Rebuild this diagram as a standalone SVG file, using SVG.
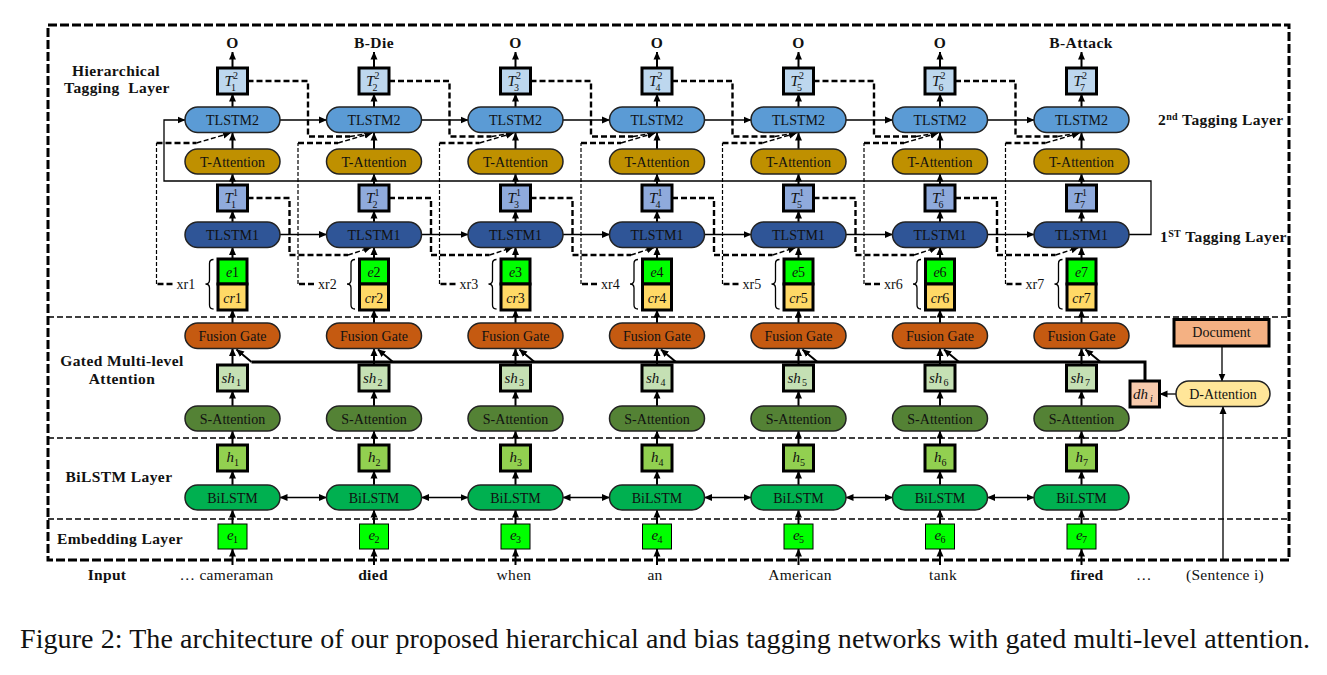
<svg xmlns="http://www.w3.org/2000/svg" xmlns:xlink="http://www.w3.org/1999/xlink" width="1327" height="675" viewBox="0 0 1327 675">
<style>
text{font-family:"Liberation Serif","Times New Roman",serif;fill:#111}
.nt{font-size:14px;text-anchor:middle}
.lab{font-size:15.5px;font-weight:bold;letter-spacing:0.4px}
.labm{font-size:15.5px;font-weight:bold;letter-spacing:0.4px;text-anchor:middle}
.m{font-size:15px;font-style:italic}
.ms{font-size:10px}
.msi{font-size:10px;font-style:italic}
.xr{font-size:14px}
.word{font-size:15.5px;text-anchor:middle;letter-spacing:0.3px}
.wordb{font-size:15.5px;text-anchor:middle;font-weight:bold;letter-spacing:0.3px}
.pill{stroke:#222;stroke-width:1.5}
.tl2{fill:#5B9BD5}.tat{fill:#BF9000}.tl1{fill:#2F5597}.fus{fill:#C55A11}.sat{fill:#548235}.bil{fill:#00B050}.dat{fill:#FFE699}
.bx{stroke:#000;stroke-width:3}
.t2{fill:#BDD7EE}.t1{fill:#8FAADC}.eg{fill:#00FF00}.cr{fill:#FFD966}.sh{fill:#C5E0B4}.hh{fill:#92D050}.dh{fill:#F8CBAD}.doc{fill:#F4B183}
.emb{fill:#00FF00;stroke:#000;stroke-width:1}
.ar{stroke:#000;stroke-width:2;fill:none;marker-end:url(#ah)}
.arh{stroke:#000;stroke-width:1.3;fill:none;marker-end:url(#ah)}
.arb{stroke:#000;stroke-width:1.3;fill:none;marker-end:url(#ah);marker-start:url(#ahs)}
.dk{stroke:#000;stroke-width:2.4;fill:none;stroke-dasharray:6 3}
.dt{stroke:#000;stroke-width:1.2;fill:none;stroke-dasharray:4 2}
.dd{stroke:#000;stroke-width:1.5;fill:none;stroke-dasharray:5 2.5;marker-end:url(#ah)}
.br{stroke:#000;stroke-width:1.3;fill:none}
.sep{stroke:#000;stroke-width:1.5;stroke-dasharray:6 3;fill:none}
</style>
<defs>
<marker id="ah" markerUnits="userSpaceOnUse" markerWidth="8" markerHeight="8" refX="7.5" refY="4" orient="auto"><path d="M0,0.5 L8,4 L0,7.5 z" fill="#000"/></marker>
<marker id="ahs" markerUnits="userSpaceOnUse" markerWidth="8" markerHeight="8" refX="7.5" refY="4" orient="auto-start-reverse"><path d="M0,0.5 L8,4 L0,7.5 z" fill="#000"/></marker>
<g id="vstack">
<line class="ar" x1="0" y1="68" x2="0" y2="52"/>
<line class="ar" x1="0" y1="107" x2="0" y2="94"/>
<line class="ar" x1="0" y1="149" x2="0" y2="133"/>
<line class="ar" x1="0" y1="185" x2="0" y2="174"/>
<line class="ar" x1="0" y1="222" x2="0" y2="211"/>
<line class="ar" x1="0" y1="259" x2="0" y2="247.5"/>
<line class="ar" x1="0" y1="323" x2="0" y2="310"/>
<line class="ar" x1="0" y1="365" x2="0" y2="348.5"/>
<line class="ar" x1="0" y1="406" x2="0" y2="391"/>
<line class="ar" x1="0" y1="445" x2="0" y2="431"/>
<line class="ar" x1="0" y1="485" x2="0" y2="471"/>
<line class="ar" x1="0" y1="524" x2="0" y2="510"/>
<line class="ar" x1="0" y1="565" x2="0" y2="549"/>
<line class="ar" x1="19" y1="362" x2="4" y2="349.5"/>
<path class="br" d="M-19,259.5 Q-23,259.5 -23,263.5 V280 Q-23,284 -27,284 Q-23,284 -23,288 V305 Q-23,309 -19,309"/>
</g>
</defs>
<rect width="1327" height="675" fill="#fff"/>

<!-- frame and layer separators -->
<g id="frame">
<rect x="48" y="25" width="1241" height="535" fill="none" stroke="#000" stroke-width="3" stroke-dasharray="9 3"/>
<line class="sep" x1="48" y1="317" x2="1289" y2="317"/>
<line class="sep" x1="48" y1="438" x2="1289" y2="438"/>
<line class="sep" x1="48" y1="519" x2="1289" y2="519"/>
</g>

<g id="layer-labels">
<text class="labm" x="116" y="76">Hierarchical</text>
<text class="labm" x="117" y="93" xml:space="preserve">Tagging  Layer</text>
<text class="labm" x="122" y="366">Gated Multi-level</text>
<text class="labm" x="122" y="384">Attention</text>
<text class="labm" x="119" y="482">BiLSTM Layer</text>
<text class="labm" x="120" y="544">Embedding Layer</text>
<text class="lab" x="1158" y="125">2<tspan font-size="10" dy="-5">nd</tspan><tspan dy="5"> Tagging Layer</tspan></text>
<text class="lab" x="1160" y="242">1<tspan font-size="10" dy="-5">ST</tspan><tspan dy="5"> Tagging Layer</tspan></text>
</g>

<!-- connectors -->
<g id="connectors">
<use xlink:href="#vstack" href="#vstack" x="232.5"/>
<use xlink:href="#vstack" href="#vstack" x="374"/>
<use xlink:href="#vstack" href="#vstack" x="515.5"/>
<use xlink:href="#vstack" href="#vstack" x="657"/>
<use xlink:href="#vstack" href="#vstack" x="798.5"/>
<use xlink:href="#vstack" href="#vstack" x="940"/>
<use xlink:href="#vstack" href="#vstack" x="1081.5"/>
<!-- TLSTM2 chain -->
<line class="arh" x1="280" y1="120" x2="326.5" y2="120"/>
<line class="arh" x1="421.5" y1="120" x2="468" y2="120"/>
<line class="arh" x1="563" y1="120" x2="609.5" y2="120"/>
<line class="arh" x1="704.5" y1="120" x2="751" y2="120"/>
<line class="arh" x1="846" y1="120" x2="892.5" y2="120"/>
<line class="arh" x1="987.5" y1="120" x2="1034" y2="120"/>
<!-- TLSTM1 chain -->
<line class="arh" x1="280" y1="234.5" x2="326.5" y2="234.5"/>
<line class="arh" x1="421.5" y1="234.5" x2="468" y2="234.5"/>
<line class="arh" x1="563" y1="234.5" x2="609.5" y2="234.5"/>
<line class="arh" x1="704.5" y1="234.5" x2="751" y2="234.5"/>
<line class="arh" x1="846" y1="234.5" x2="892.5" y2="234.5"/>
<line class="arh" x1="987.5" y1="234.5" x2="1034" y2="234.5"/>
<!-- BiLSTM chain -->
<line class="arb" x1="280" y1="497.5" x2="326.5" y2="497.5"/>
<line class="arb" x1="421.5" y1="497.5" x2="468" y2="497.5"/>
<line class="arb" x1="563" y1="497.5" x2="609.5" y2="497.5"/>
<line class="arb" x1="704.5" y1="497.5" x2="751" y2="497.5"/>
<line class="arb" x1="846" y1="497.5" x2="892.5" y2="497.5"/>
<line class="arb" x1="987.5" y1="497.5" x2="1034" y2="497.5"/>
<!-- loop from TLSTM1 (last) to TLSTM2 (first) -->
<path class="arh" stroke-width="1.8" d="M1129,234.5 H1151 V181 H164 V120 H185"/>
<!-- T2 dashed to next TLSTM2 -->
<path class="dk" d="M247.5,81 H308 V136.5 H350"/><path class="dd" d="M350,136.5 L372,133"/>
<path class="dk" d="M389,81 H449.5 V136.5 H491.5"/><path class="dd" d="M491.5,136.5 L513.5,133"/>
<path class="dk" d="M530.5,81 H591 V136.5 H633"/><path class="dd" d="M633,136.5 L655,133"/>
<path class="dk" d="M672,81 H732.5 V136.5 H774.5"/><path class="dd" d="M774.5,136.5 L796.5,133"/>
<path class="dk" d="M813.5,81 H874 V136.5 H916"/><path class="dd" d="M916,136.5 L938,133"/>
<path class="dk" d="M955,81 H1015.5 V136.5 H1057.5"/><path class="dd" d="M1057.5,136.5 L1079.5,133"/>
<!-- T1 dashed to next TLSTM1 -->
<path class="dk" d="M247.5,198 H289.5 V255 H348"/><path class="dd" d="M348,255 L371,247.5"/>
<path class="dk" d="M389,198 H431 V255 H489.5"/><path class="dd" d="M489.5,255 L512.5,247.5"/>
<path class="dk" d="M530.5,198 H572.5 V255 H631"/><path class="dd" d="M631,255 L654,247.5"/>
<path class="dk" d="M672,198 H714 V255 H772.5"/><path class="dd" d="M772.5,255 L795.5,247.5"/>
<path class="dk" d="M813.5,198 H855.5 V255 H914"/><path class="dd" d="M914,255 L937,247.5"/>
<path class="dk" d="M955,198 H997 V255 H1055.5"/><path class="dd" d="M1055.5,255 L1078.5,247.5"/>
<!-- xr dashed to TLSTM2 -->
<path class="dk" d="M172.5,284 H156.5"/><path class="dt" d="M156.5,284 V143"/><path class="dk" d="M156.5,143 H196.5"/><path class="dd" d="M196.5,143 L230.5,133"/>
<path class="dk" d="M314,284 H298"/><path class="dt" d="M298,284 V143"/><path class="dk" d="M298,143 H338"/><path class="dd" d="M338,143 L372,133"/>
<path class="dk" d="M455.5,284 H439.5"/><path class="dt" d="M439.5,284 V143"/><path class="dk" d="M439.5,143 H479.5"/><path class="dd" d="M479.5,143 L513.5,133"/>
<path class="dk" d="M597,284 H581"/><path class="dt" d="M581,284 V143"/><path class="dk" d="M581,143 H621"/><path class="dd" d="M621,143 L655,133"/>
<path class="dk" d="M738.5,284 H722.5"/><path class="dt" d="M722.5,284 V143"/><path class="dk" d="M722.5,143 H762.5"/><path class="dd" d="M762.5,143 L796.5,133"/>
<path class="dk" d="M880,284 H864"/><path class="dt" d="M864,284 V143"/><path class="dk" d="M864,143 H904"/><path class="dd" d="M904,143 L938,133"/>
<path class="dk" d="M1021.5,284 H1005.5"/><path class="dt" d="M1005.5,284 V143"/><path class="dk" d="M1005.5,143 H1045.5"/><path class="dd" d="M1045.5,143 L1079.5,133"/>
<!-- document attention -->
<path d="M1145,381 V362 H251.5" stroke="#000" stroke-width="3" fill="none"/>
<line class="arh" x1="1176" y1="394" x2="1160" y2="394"/>
<line class="arh" x1="1222" y1="346" x2="1222" y2="381"/>
<line class="arh" stroke-width="1.6" x1="1223" y1="560" x2="1223" y2="406.5"/>
</g>

<!-- column 1 -->
<g id="out-1"><text class="labm" x="232.5" y="48">O</text></g>
<g id="T2-1" transform="translate(232.5 0)"><rect class="bx t2" x="-15" y="68" width="30" height="26"/><text class="m" x="-8" y="86">T</text><text class="ms" x="0.5" y="78.5">2</text><text class="ms" x="-1.5" y="90.5">1</text></g>
<g id="TLSTM2-1" transform="translate(232.5 0)"><rect class="pill tl2" x="-47.5" y="107" width="95" height="25.5" rx="12.75"/><text class="nt" x="0" y="124.5">TLSTM2</text></g>
<g id="TAtt-1" transform="translate(232.5 0)"><rect class="pill tat" x="-47.5" y="149" width="95" height="25" rx="12.5"/><text class="nt" x="0" y="166.5">T-Attention</text></g>
<g id="T1-1" transform="translate(232.5 0)"><rect class="bx t1" x="-15" y="185" width="30" height="26"/><text class="m" x="-8" y="203">T</text><text class="ms" x="0.5" y="195.5">1</text><text class="ms" x="-1.5" y="207.5">1</text></g>
<g id="TLSTM1-1" transform="translate(232.5 0)"><rect class="pill tl1" x="-47.5" y="222" width="95" height="25.5" rx="12.75"/><text class="nt" x="0" y="239.5">TLSTM1</text></g>
<g id="ecr-1" transform="translate(232.5 0)"><rect class="bx eg" x="-14.5" y="259" width="29" height="25"/><rect class="bx cr" x="-14.5" y="284" width="29" height="26"/><text class="nt" font-size="15" x="0" y="277"><tspan font-style="italic">e</tspan>1</text><text class="nt" font-size="15" x="0" y="302.5"><tspan font-style="italic">cr</tspan>1</text><text class="xr" x="-56" y="288.5">xr1</text></g>
<g id="Fusion-1" transform="translate(232.5 0)"><rect class="pill fus" x="-47.5" y="323" width="95" height="25.5" rx="12.75"/><text class="nt" x="0" y="340.5">Fusion Gate</text></g>
<g id="sh-1" transform="translate(232.5 0)"><rect class="bx sh" x="-15" y="365" width="30" height="26"/><text class="m" x="-11" y="382.5">sh</text><text class="ms" x="3.5" y="386">1</text></g>
<g id="SAtt-1" transform="translate(232.5 0)"><rect class="pill sat" x="-47.5" y="406" width="95" height="25" rx="12.5"/><text class="nt" x="0" y="423.5">S-Attention</text></g>
<g id="h-1" transform="translate(232.5 0)"><rect class="bx hh" x="-15" y="445" width="30" height="26"/><text class="m" x="-6" y="462">h</text><text class="ms" x="1.5" y="465.5">1</text></g>
<g id="BiLSTM-1" transform="translate(232.5 0)"><rect class="pill bil" x="-47.5" y="485" width="95" height="25" rx="12.5"/><text class="nt" x="0" y="502.5">BiLSTM</text></g>
<g id="emb-1" transform="translate(232.5 0)"><rect class="emb" x="-14.5" y="524" width="29" height="25"/><text class="m" font-size="12" x="-5.5" y="540">e</text><text class="ms" font-size="8" x="0.5" y="543">1</text></g>
<g id="in-1"><text class="word" x="226.5" y="580">… cameraman</text></g>

<!-- column 2 -->
<g id="out-2"><text class="labm" x="374" y="48">B-Die</text></g>
<g id="T2-2" transform="translate(374 0)"><rect class="bx t2" x="-15" y="68" width="30" height="26"/><text class="m" x="-8" y="86">T</text><text class="ms" x="0.5" y="78.5">2</text><text class="ms" x="-1.5" y="90.5">2</text></g>
<g id="TLSTM2-2" transform="translate(374 0)"><rect class="pill tl2" x="-47.5" y="107" width="95" height="25.5" rx="12.75"/><text class="nt" x="0" y="124.5">TLSTM2</text></g>
<g id="TAtt-2" transform="translate(374 0)"><rect class="pill tat" x="-47.5" y="149" width="95" height="25" rx="12.5"/><text class="nt" x="0" y="166.5">T-Attention</text></g>
<g id="T1-2" transform="translate(374 0)"><rect class="bx t1" x="-15" y="185" width="30" height="26"/><text class="m" x="-8" y="203">T</text><text class="ms" x="0.5" y="195.5">1</text><text class="ms" x="-1.5" y="207.5">2</text></g>
<g id="TLSTM1-2" transform="translate(374 0)"><rect class="pill tl1" x="-47.5" y="222" width="95" height="25.5" rx="12.75"/><text class="nt" x="0" y="239.5">TLSTM1</text></g>
<g id="ecr-2" transform="translate(374 0)"><rect class="bx eg" x="-14.5" y="259" width="29" height="25"/><rect class="bx cr" x="-14.5" y="284" width="29" height="26"/><text class="nt" font-size="15" x="0" y="277"><tspan font-style="italic">e</tspan>2</text><text class="nt" font-size="15" x="0" y="302.5"><tspan font-style="italic">cr</tspan>2</text><text class="xr" x="-56" y="288.5">xr2</text></g>
<g id="Fusion-2" transform="translate(374 0)"><rect class="pill fus" x="-47.5" y="323" width="95" height="25.5" rx="12.75"/><text class="nt" x="0" y="340.5">Fusion Gate</text></g>
<g id="sh-2" transform="translate(374 0)"><rect class="bx sh" x="-15" y="365" width="30" height="26"/><text class="m" x="-11" y="382.5">sh</text><text class="ms" x="3.5" y="386">2</text></g>
<g id="SAtt-2" transform="translate(374 0)"><rect class="pill sat" x="-47.5" y="406" width="95" height="25" rx="12.5"/><text class="nt" x="0" y="423.5">S-Attention</text></g>
<g id="h-2" transform="translate(374 0)"><rect class="bx hh" x="-15" y="445" width="30" height="26"/><text class="m" x="-6" y="462">h</text><text class="ms" x="1.5" y="465.5">2</text></g>
<g id="BiLSTM-2" transform="translate(374 0)"><rect class="pill bil" x="-47.5" y="485" width="95" height="25" rx="12.5"/><text class="nt" x="0" y="502.5">BiLSTM</text></g>
<g id="emb-2" transform="translate(374 0)"><rect class="emb" x="-14.5" y="524" width="29" height="25"/><text class="m" font-size="12" x="-5.5" y="540">e</text><text class="ms" font-size="8" x="0.5" y="543">2</text></g>
<g id="in-2"><text class="wordb" x="373" y="580">died</text></g>

<!-- column 3 -->
<g id="out-3"><text class="labm" x="515.5" y="48">O</text></g>
<g id="T2-3" transform="translate(515.5 0)"><rect class="bx t2" x="-15" y="68" width="30" height="26"/><text class="m" x="-8" y="86">T</text><text class="ms" x="0.5" y="78.5">2</text><text class="ms" x="-1.5" y="90.5">3</text></g>
<g id="TLSTM2-3" transform="translate(515.5 0)"><rect class="pill tl2" x="-47.5" y="107" width="95" height="25.5" rx="12.75"/><text class="nt" x="0" y="124.5">TLSTM2</text></g>
<g id="TAtt-3" transform="translate(515.5 0)"><rect class="pill tat" x="-47.5" y="149" width="95" height="25" rx="12.5"/><text class="nt" x="0" y="166.5">T-Attention</text></g>
<g id="T1-3" transform="translate(515.5 0)"><rect class="bx t1" x="-15" y="185" width="30" height="26"/><text class="m" x="-8" y="203">T</text><text class="ms" x="0.5" y="195.5">1</text><text class="ms" x="-1.5" y="207.5">3</text></g>
<g id="TLSTM1-3" transform="translate(515.5 0)"><rect class="pill tl1" x="-47.5" y="222" width="95" height="25.5" rx="12.75"/><text class="nt" x="0" y="239.5">TLSTM1</text></g>
<g id="ecr-3" transform="translate(515.5 0)"><rect class="bx eg" x="-14.5" y="259" width="29" height="25"/><rect class="bx cr" x="-14.5" y="284" width="29" height="26"/><text class="nt" font-size="15" x="0" y="277"><tspan font-style="italic">e</tspan>3</text><text class="nt" font-size="15" x="0" y="302.5"><tspan font-style="italic">cr</tspan>3</text><text class="xr" x="-56" y="288.5">xr3</text></g>
<g id="Fusion-3" transform="translate(515.5 0)"><rect class="pill fus" x="-47.5" y="323" width="95" height="25.5" rx="12.75"/><text class="nt" x="0" y="340.5">Fusion Gate</text></g>
<g id="sh-3" transform="translate(515.5 0)"><rect class="bx sh" x="-15" y="365" width="30" height="26"/><text class="m" x="-11" y="382.5">sh</text><text class="ms" x="3.5" y="386">3</text></g>
<g id="SAtt-3" transform="translate(515.5 0)"><rect class="pill sat" x="-47.5" y="406" width="95" height="25" rx="12.5"/><text class="nt" x="0" y="423.5">S-Attention</text></g>
<g id="h-3" transform="translate(515.5 0)"><rect class="bx hh" x="-15" y="445" width="30" height="26"/><text class="m" x="-6" y="462">h</text><text class="ms" x="1.5" y="465.5">3</text></g>
<g id="BiLSTM-3" transform="translate(515.5 0)"><rect class="pill bil" x="-47.5" y="485" width="95" height="25" rx="12.5"/><text class="nt" x="0" y="502.5">BiLSTM</text></g>
<g id="emb-3" transform="translate(515.5 0)"><rect class="emb" x="-14.5" y="524" width="29" height="25"/><text class="m" font-size="12" x="-5.5" y="540">e</text><text class="ms" font-size="8" x="0.5" y="543">3</text></g>
<g id="in-3"><text class="word" x="514" y="580">when</text></g>

<!-- column 4 -->
<g id="out-4"><text class="labm" x="657" y="48">O</text></g>
<g id="T2-4" transform="translate(657 0)"><rect class="bx t2" x="-15" y="68" width="30" height="26"/><text class="m" x="-8" y="86">T</text><text class="ms" x="0.5" y="78.5">2</text><text class="ms" x="-1.5" y="90.5">4</text></g>
<g id="TLSTM2-4" transform="translate(657 0)"><rect class="pill tl2" x="-47.5" y="107" width="95" height="25.5" rx="12.75"/><text class="nt" x="0" y="124.5">TLSTM2</text></g>
<g id="TAtt-4" transform="translate(657 0)"><rect class="pill tat" x="-47.5" y="149" width="95" height="25" rx="12.5"/><text class="nt" x="0" y="166.5">T-Attention</text></g>
<g id="T1-4" transform="translate(657 0)"><rect class="bx t1" x="-15" y="185" width="30" height="26"/><text class="m" x="-8" y="203">T</text><text class="ms" x="0.5" y="195.5">1</text><text class="ms" x="-1.5" y="207.5">4</text></g>
<g id="TLSTM1-4" transform="translate(657 0)"><rect class="pill tl1" x="-47.5" y="222" width="95" height="25.5" rx="12.75"/><text class="nt" x="0" y="239.5">TLSTM1</text></g>
<g id="ecr-4" transform="translate(657 0)"><rect class="bx eg" x="-14.5" y="259" width="29" height="25"/><rect class="bx cr" x="-14.5" y="284" width="29" height="26"/><text class="nt" font-size="15" x="0" y="277"><tspan font-style="italic">e</tspan>4</text><text class="nt" font-size="15" x="0" y="302.5"><tspan font-style="italic">cr</tspan>4</text><text class="xr" x="-56" y="288.5">xr4</text></g>
<g id="Fusion-4" transform="translate(657 0)"><rect class="pill fus" x="-47.5" y="323" width="95" height="25.5" rx="12.75"/><text class="nt" x="0" y="340.5">Fusion Gate</text></g>
<g id="sh-4" transform="translate(657 0)"><rect class="bx sh" x="-15" y="365" width="30" height="26"/><text class="m" x="-11" y="382.5">sh</text><text class="ms" x="3.5" y="386">4</text></g>
<g id="SAtt-4" transform="translate(657 0)"><rect class="pill sat" x="-47.5" y="406" width="95" height="25" rx="12.5"/><text class="nt" x="0" y="423.5">S-Attention</text></g>
<g id="h-4" transform="translate(657 0)"><rect class="bx hh" x="-15" y="445" width="30" height="26"/><text class="m" x="-6" y="462">h</text><text class="ms" x="1.5" y="465.5">4</text></g>
<g id="BiLSTM-4" transform="translate(657 0)"><rect class="pill bil" x="-47.5" y="485" width="95" height="25" rx="12.5"/><text class="nt" x="0" y="502.5">BiLSTM</text></g>
<g id="emb-4" transform="translate(657 0)"><rect class="emb" x="-14.5" y="524" width="29" height="25"/><text class="m" font-size="12" x="-5.5" y="540">e</text><text class="ms" font-size="8" x="0.5" y="543">4</text></g>
<g id="in-4"><text class="word" x="655" y="580">an</text></g>

<!-- column 5 -->
<g id="out-5"><text class="labm" x="798.5" y="48">O</text></g>
<g id="T2-5" transform="translate(798.5 0)"><rect class="bx t2" x="-15" y="68" width="30" height="26"/><text class="m" x="-8" y="86">T</text><text class="ms" x="0.5" y="78.5">2</text><text class="ms" x="-1.5" y="90.5">5</text></g>
<g id="TLSTM2-5" transform="translate(798.5 0)"><rect class="pill tl2" x="-47.5" y="107" width="95" height="25.5" rx="12.75"/><text class="nt" x="0" y="124.5">TLSTM2</text></g>
<g id="TAtt-5" transform="translate(798.5 0)"><rect class="pill tat" x="-47.5" y="149" width="95" height="25" rx="12.5"/><text class="nt" x="0" y="166.5">T-Attention</text></g>
<g id="T1-5" transform="translate(798.5 0)"><rect class="bx t1" x="-15" y="185" width="30" height="26"/><text class="m" x="-8" y="203">T</text><text class="ms" x="0.5" y="195.5">1</text><text class="ms" x="-1.5" y="207.5">5</text></g>
<g id="TLSTM1-5" transform="translate(798.5 0)"><rect class="pill tl1" x="-47.5" y="222" width="95" height="25.5" rx="12.75"/><text class="nt" x="0" y="239.5">TLSTM1</text></g>
<g id="ecr-5" transform="translate(798.5 0)"><rect class="bx eg" x="-14.5" y="259" width="29" height="25"/><rect class="bx cr" x="-14.5" y="284" width="29" height="26"/><text class="nt" font-size="15" x="0" y="277"><tspan font-style="italic">e</tspan>5</text><text class="nt" font-size="15" x="0" y="302.5"><tspan font-style="italic">cr</tspan>5</text><text class="xr" x="-56" y="288.5">xr5</text></g>
<g id="Fusion-5" transform="translate(798.5 0)"><rect class="pill fus" x="-47.5" y="323" width="95" height="25.5" rx="12.75"/><text class="nt" x="0" y="340.5">Fusion Gate</text></g>
<g id="sh-5" transform="translate(798.5 0)"><rect class="bx sh" x="-15" y="365" width="30" height="26"/><text class="m" x="-11" y="382.5">sh</text><text class="ms" x="3.5" y="386">5</text></g>
<g id="SAtt-5" transform="translate(798.5 0)"><rect class="pill sat" x="-47.5" y="406" width="95" height="25" rx="12.5"/><text class="nt" x="0" y="423.5">S-Attention</text></g>
<g id="h-5" transform="translate(798.5 0)"><rect class="bx hh" x="-15" y="445" width="30" height="26"/><text class="m" x="-6" y="462">h</text><text class="ms" x="1.5" y="465.5">5</text></g>
<g id="BiLSTM-5" transform="translate(798.5 0)"><rect class="pill bil" x="-47.5" y="485" width="95" height="25" rx="12.5"/><text class="nt" x="0" y="502.5">BiLSTM</text></g>
<g id="emb-5" transform="translate(798.5 0)"><rect class="emb" x="-14.5" y="524" width="29" height="25"/><text class="m" font-size="12" x="-5.5" y="540">e</text><text class="ms" font-size="8" x="0.5" y="543">5</text></g>
<g id="in-5"><text class="word" x="800" y="580">American</text></g>

<!-- column 6 -->
<g id="out-6"><text class="labm" x="940" y="48">O</text></g>
<g id="T2-6" transform="translate(940 0)"><rect class="bx t2" x="-15" y="68" width="30" height="26"/><text class="m" x="-8" y="86">T</text><text class="ms" x="0.5" y="78.5">2</text><text class="ms" x="-1.5" y="90.5">6</text></g>
<g id="TLSTM2-6" transform="translate(940 0)"><rect class="pill tl2" x="-47.5" y="107" width="95" height="25.5" rx="12.75"/><text class="nt" x="0" y="124.5">TLSTM2</text></g>
<g id="TAtt-6" transform="translate(940 0)"><rect class="pill tat" x="-47.5" y="149" width="95" height="25" rx="12.5"/><text class="nt" x="0" y="166.5">T-Attention</text></g>
<g id="T1-6" transform="translate(940 0)"><rect class="bx t1" x="-15" y="185" width="30" height="26"/><text class="m" x="-8" y="203">T</text><text class="ms" x="0.5" y="195.5">1</text><text class="ms" x="-1.5" y="207.5">6</text></g>
<g id="TLSTM1-6" transform="translate(940 0)"><rect class="pill tl1" x="-47.5" y="222" width="95" height="25.5" rx="12.75"/><text class="nt" x="0" y="239.5">TLSTM1</text></g>
<g id="ecr-6" transform="translate(940 0)"><rect class="bx eg" x="-14.5" y="259" width="29" height="25"/><rect class="bx cr" x="-14.5" y="284" width="29" height="26"/><text class="nt" font-size="15" x="0" y="277"><tspan font-style="italic">e</tspan>6</text><text class="nt" font-size="15" x="0" y="302.5"><tspan font-style="italic">cr</tspan>6</text><text class="xr" x="-56" y="288.5">xr6</text></g>
<g id="Fusion-6" transform="translate(940 0)"><rect class="pill fus" x="-47.5" y="323" width="95" height="25.5" rx="12.75"/><text class="nt" x="0" y="340.5">Fusion Gate</text></g>
<g id="sh-6" transform="translate(940 0)"><rect class="bx sh" x="-15" y="365" width="30" height="26"/><text class="m" x="-11" y="382.5">sh</text><text class="ms" x="3.5" y="386">6</text></g>
<g id="SAtt-6" transform="translate(940 0)"><rect class="pill sat" x="-47.5" y="406" width="95" height="25" rx="12.5"/><text class="nt" x="0" y="423.5">S-Attention</text></g>
<g id="h-6" transform="translate(940 0)"><rect class="bx hh" x="-15" y="445" width="30" height="26"/><text class="m" x="-6" y="462">h</text><text class="ms" x="1.5" y="465.5">6</text></g>
<g id="BiLSTM-6" transform="translate(940 0)"><rect class="pill bil" x="-47.5" y="485" width="95" height="25" rx="12.5"/><text class="nt" x="0" y="502.5">BiLSTM</text></g>
<g id="emb-6" transform="translate(940 0)"><rect class="emb" x="-14.5" y="524" width="29" height="25"/><text class="m" font-size="12" x="-5.5" y="540">e</text><text class="ms" font-size="8" x="0.5" y="543">6</text></g>
<g id="in-6"><text class="word" x="943" y="580">tank</text></g>

<!-- column 7 -->
<g id="out-7"><text class="labm" x="1081" y="48">B-Attack</text></g>
<g id="T2-7" transform="translate(1081.5 0)"><rect class="bx t2" x="-15" y="68" width="30" height="26"/><text class="m" x="-8" y="86">T</text><text class="ms" x="0.5" y="78.5">2</text><text class="ms" x="-1.5" y="90.5">7</text></g>
<g id="TLSTM2-7" transform="translate(1081.5 0)"><rect class="pill tl2" x="-47.5" y="107" width="95" height="25.5" rx="12.75"/><text class="nt" x="0" y="124.5">TLSTM2</text></g>
<g id="TAtt-7" transform="translate(1081.5 0)"><rect class="pill tat" x="-47.5" y="149" width="95" height="25" rx="12.5"/><text class="nt" x="0" y="166.5">T-Attention</text></g>
<g id="T1-7" transform="translate(1081.5 0)"><rect class="bx t1" x="-15" y="185" width="30" height="26"/><text class="m" x="-8" y="203">T</text><text class="ms" x="0.5" y="195.5">1</text><text class="ms" x="-1.5" y="207.5">7</text></g>
<g id="TLSTM1-7" transform="translate(1081.5 0)"><rect class="pill tl1" x="-47.5" y="222" width="95" height="25.5" rx="12.75"/><text class="nt" x="0" y="239.5">TLSTM1</text></g>
<g id="ecr-7" transform="translate(1081.5 0)"><rect class="bx eg" x="-14.5" y="259" width="29" height="25"/><rect class="bx cr" x="-14.5" y="284" width="29" height="26"/><text class="nt" font-size="15" x="0" y="277"><tspan font-style="italic">e</tspan>7</text><text class="nt" font-size="15" x="0" y="302.5"><tspan font-style="italic">cr</tspan>7</text><text class="xr" x="-56" y="288.5">xr7</text></g>
<g id="Fusion-7" transform="translate(1081.5 0)"><rect class="pill fus" x="-47.5" y="323" width="95" height="25.5" rx="12.75"/><text class="nt" x="0" y="340.5">Fusion Gate</text></g>
<g id="sh-7" transform="translate(1081.5 0)"><rect class="bx sh" x="-15" y="365" width="30" height="26"/><text class="m" x="-11" y="382.5">sh</text><text class="ms" x="3.5" y="386">7</text></g>
<g id="SAtt-7" transform="translate(1081.5 0)"><rect class="pill sat" x="-47.5" y="406" width="95" height="25" rx="12.5"/><text class="nt" x="0" y="423.5">S-Attention</text></g>
<g id="h-7" transform="translate(1081.5 0)"><rect class="bx hh" x="-15" y="445" width="30" height="26"/><text class="m" x="-6" y="462">h</text><text class="ms" x="1.5" y="465.5">7</text></g>
<g id="BiLSTM-7" transform="translate(1081.5 0)"><rect class="pill bil" x="-47.5" y="485" width="95" height="25" rx="12.5"/><text class="nt" x="0" y="502.5">BiLSTM</text></g>
<g id="emb-7" transform="translate(1081.5 0)"><rect class="emb" x="-14.5" y="524" width="29" height="25"/><text class="m" font-size="12" x="-5.5" y="540">e</text><text class="ms" font-size="8" x="0.5" y="543">7</text></g>
<g id="in-7"><text class="wordb" x="1087" y="580">fired</text></g>

<!-- document side -->
<g id="document"><rect class="bx doc" x="1174" y="319.5" width="95" height="26.5"/><text class="nt" x="1221.5" y="337">Document</text></g>
<g id="D-Attention"><rect class="pill dat" x="1176" y="381" width="94" height="25.5" rx="12.75"/><text class="nt" x="1223" y="398.5">D-Attention</text></g>
<g id="dh"><rect class="bx dh" x="1130" y="381" width="29.5" height="26"/><text class="m" x="1133" y="398.5">dh</text><text class="msi" x="1150" y="402">i</text></g>

<g id="input-row">
<text class="wordb" x="107" y="580">Input</text>
<text class="word" x="1144" y="580">…</text>
<text class="word" x="1225" y="580">(Sentence i)</text>
</g>

<text id="caption" x="20" y="648" font-size="28" textLength="1290" lengthAdjust="spacing">Figure 2: The architecture of our proposed hierarchical and bias tagging networks with gated multi-level attention.</text>
</svg>
